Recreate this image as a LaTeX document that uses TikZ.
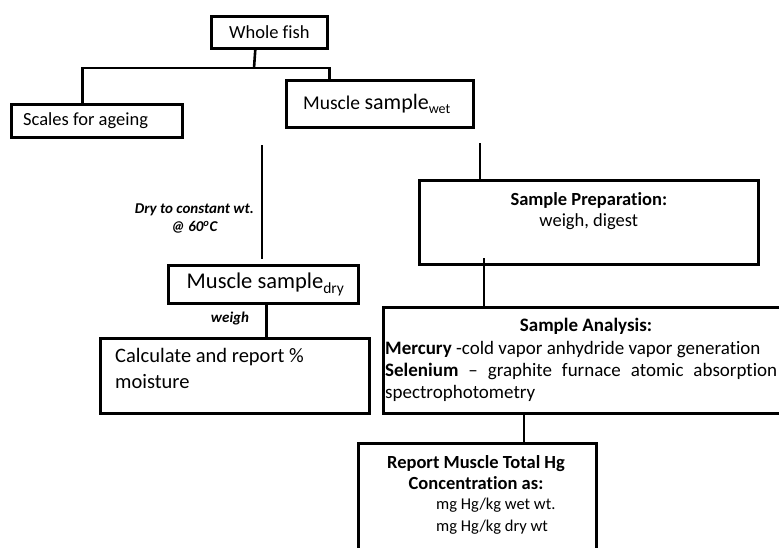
\documentclass[tikz,border=0pt]{standalone}
\usepackage{fontspec}
\setmainfont{Carlito}[Ligatures=CommonOff]
\usetikzlibrary{positioning}
\tikzset{
  box/.style={draw, line width=2.6pt, anchor=north west, inner sep=0pt},
  link/.style={line width=2.6pt},
  boxtext/.style={inner sep=0pt, font=\fontsize{18.5}{21.5}\selectfont},
  bigtext/.style={inner sep=0pt, font=\fontsize{20.5}{26}\selectfont},
  steplabel/.style={inner sep=0pt, align=center, font=\fontsize{15}{18}\selectfont\bfseries\itshape},
}

\begin{document}
\begin{tikzpicture}[x=1pt,y=-1pt]
  \useasboundingbox (0,0) rectangle (779,547);
  % boxes
  \node[box, minimum width=116pt, minimum height=32pt] (fish) at (210,15) {};
  \node[box, minimum width=171pt, minimum height=33pt] (scales) at (10,103) {};
  \node[box, minimum width=187pt, minimum height=47pt] (wet) at (285,79) {};
  \node[box, minimum width=190pt, minimum height=38pt] (dry) at (167,264) {};
  \node[box, minimum width=269pt, minimum height=75pt] (calc) at (99,337) {};
  \node[box, minimum width=339pt, minimum height=84pt] (prep) at (418,179) {};
  \node[box, minimum width=410pt, minimum height=106pt] (ana) at (382,306) {};
  \node[box, minimum width=238pt, minimum height=125pt] (rep) at (357,442) {};

  % texts
  \node[boxtext] (fisht) at (fish.center) {Whole fish};
  \node[boxtext, anchor=west] (scalest) at ([xshift=13pt]scales.west) {Scales for ageing};
  \node[boxtext, anchor=west] (wett) at ([xshift=18pt]wet.west)
    {\fontsize{19.5}{23}\selectfont Muscle {\fontsize{22}{25}\selectfont sample}\raisebox{-4pt}{\fontsize{14}{14}\selectfont wet}};
  \node[inner sep=0pt, font=\fontsize{22.5}{26}\selectfont] (dryt) at ([xshift=2pt]dry.center)
    {Muscle sample\raisebox{-5pt}{\fontsize{15.5}{15}\selectfont dry}};
  \node[bigtext, align=left, anchor=north west] (calct) at ([xshift=16pt, yshift=-11pt]calc.north west)
    {Calculate and report \%\\moisture};
  \node[boxtext, align=center, below=13pt of prep.north] (prept)
    {\textbf{Sample Preparation:}\\weigh, digest};
  \node[boxtext, font=\fontsize{19}{22}\selectfont\bfseries, anchor=north] (anahead) at (586,318) {Sample Analysis:};
  \node[boxtext, font=\fontsize{19}{22}\selectfont, text width=392pt, align=justify, anchor=north west] (anabody) at (385,341)
    {\textbf{Mercury} -cold vapor anhydride vapor generation\\
     \textbf{Selenium} -- graphite furnace atomic absorption\linebreak spectrophotometry};
  \node[boxtext, font=\fontsize{18.5}{21}\selectfont\bfseries, align=center, anchor=north] (rephead) at (476,455)
    {Report Muscle Total Hg\\Concentration as:};
  \node[boxtext, font=\fontsize{16.5}{21.5}\selectfont, align=left, anchor=north west] (repunits) at (436,498)
    {mg Hg/kg wet wt.\\mg Hg/kg dry wt};

  % step labels
  \node[steplabel, anchor=north east] (drylbl) at (254,204) {Dry to constant wt.\\@ 60\textsuperscript{o}C};
  \node[steplabel] (weighlbl) at (230,318) {weigh};

  % connectors
  \coordinate (split) at (254,68);
  \coordinate (drytop) at (262,145);
  \coordinate (preptop) at (480,143);
  \coordinate (anax) at (484,258);
  \coordinate (repx) at (524,0);
  \draw[link] ([xshift=-14pt]fish.south) -- (split);
  \draw[link] ([xshift=-14.5pt]scales.north) |- (split) -| ([xshift=-50.5pt]wet.north);
  \draw[link] (drytop) -- ([yshift=5pt]dry.north -| drytop);
  \draw[link] ([xshift=3pt]dry.south) -- ([xshift=3pt]dry.south |- calc.north);
  \draw[link] (preptop) -- (preptop |- prep.north);
  \draw[link] (anax) -- (ana.north -| anax);
  \draw[link] (ana.south -| repx) -- (rep.north -| repx);
\end{tikzpicture}
\end{document}
